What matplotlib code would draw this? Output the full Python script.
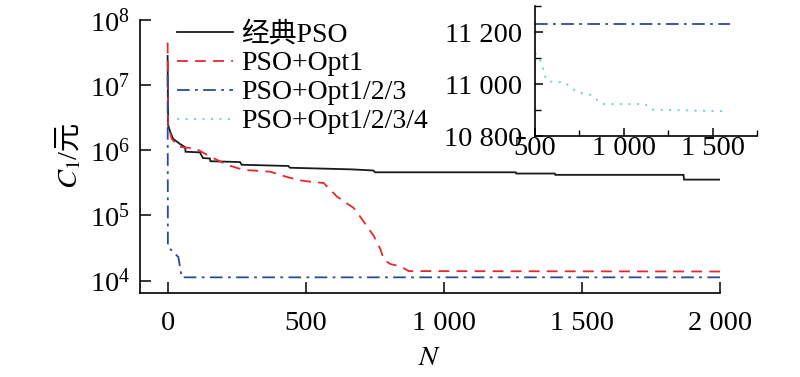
import matplotlib
matplotlib.use("Agg")
import matplotlib.pyplot as plt
from matplotlib.ticker import FixedLocator, FuncFormatter, NullLocator, LogFormatterSciNotation
from matplotlib.lines import Line2D

plt.rcParams['font.family'] = ['Liberation Serif', 'Noto Sans CJK SC', 'DejaVu Sans']
plt.rcParams['mathtext.fontset'] = 'stix'

# ---- data ----
labels = ['经典PSO', 'PSO+Opt1', 'PSO+Opt1/2/3', 'PSO+Opt1/2/3/4']

black_n = [0, 2, 12, 20, 45, 63, 65, 117, 128, 153, 155, 262, 268, 437, 443, 666, 745, 751,
           1260, 1262, 1402, 1404, 1868, 1870, 2000]
black_c = [2.8e7, 2.4e6, 1.8e6, 1.5e6, 1.25e6, 1.12e6, 9.5e5, 9.3e5, 7.6e5, 7.5e5, 6.8e5, 6.6e5,
           6.0e5, 5.75e5, 5.4e5, 5.1e5, 4.9e5, 4.6e5, 4.6e5, 4.4e5, 4.4e5, 4.2e5, 4.2e5, 3.55e5, 3.55e5]

red_n = [0, 2, 15, 40, 63, 100, 153, 214, 275, 371, 432, 480, 517, 565, 613, 674, 698, 747,
         771, 783, 806, 843, 873, 2000]
red_c = [4.5e7, 2.4e6, 1.5e6, 1.15e6, 1.1e6, 1.07e6, 8.1e5, 6.0e5, 5.0e5, 4.7e5, 3.9e5, 3.45e5,
         3.3e5, 3.15e5, 1.95e5, 1.3e5, 9.5e4, 4.8e4, 3.0e4, 2.1e4, 1.8e4, 1.65e4, 1.4e4, 1.38e4]

blue_n = [0, 1, 39, 51, 2000]
blue_c = [1.45e7, 3.3e4, 2.3e4, 11230, 11230]

inset_blue_n = [500, 1600]
inset_blue_c = [11230, 11230]

cyan_n = [500, 509, 538, 556, 575, 669, 697, 742, 809, 847, 882, 1118, 1165, 1590]
cyan_c = [11120, 11112, 11081, 11029, 11010, 11006, 10988, 10968, 10959, 10940, 10923,
          10923, 10901, 10895]

main_xticks = [0, 500, 1000, 1500, 2000]
main_yticks = [1e4, 1e5, 1e6, 1e7, 1e8]
inset_xticks = [500, 1000, 1500]
inset_xminor = [750, 1250, 1750]
inset_yticks = [10800, 11000, 11200]
inset_yminor = [10900, 11100, 11300]

c_black = '#1a1a1a'
c_red = '#e5282e'
c_blue = '#2b4a9c'
c_cyan = '#6fcfd3'

FS = 20.5


def spaced(v, pos=None):
    return f"{int(round(v)):,}".replace(',', ' ')


fig = plt.figure(figsize=(8, 3.77), dpi=100)
ax = fig.add_axes([140 / 800, 1 - 293 / 377, 580 / 800, 273 / 377])

lw = 1.3
ax.plot(black_n, black_c, color=c_black, lw=lw, solid_joinstyle='miter')
ax.plot(red_n, red_c, color=c_red, lw=lw, dashes=(6, 4))
ax.plot(blue_n, blue_c, color=c_blue, lw=lw, dashes=(7, 3, 1.5, 3))

ax.set_yscale('log')
ax.set_xlim(-100, 2000)
ax.set_ylim(10 ** 3.81, 1e8)
ax.xaxis.set_major_locator(FixedLocator(main_xticks))
ax.xaxis.set_major_formatter(FuncFormatter(spaced))
ax.yaxis.set_major_locator(FixedLocator(main_yticks))
ax.yaxis.set_major_formatter(LogFormatterSciNotation())
ax.yaxis.set_minor_locator(NullLocator())
for s in ['top', 'right']:
    ax.spines[s].set_visible(False)
for s in ['left', 'bottom']:
    ax.spines[s].set_linewidth(1.2)
ax.tick_params(axis='both', direction='in', length=8, width=1.1, labelsize=FS)
ax.tick_params(axis='x', pad=13)
ax.tick_params(axis='y', pad=7)

ax.set_xlabel('$N$', fontsize=FS, labelpad=7)

handles = [
    Line2D([], [], color=c_black, lw=lw),
    Line2D([], [], color=c_red, lw=lw, dashes=(6, 4)),
    Line2D([], [], color=c_blue, lw=lw, dashes=(7, 3, 1.5, 3)),
    Line2D([], [], color=c_cyan, lw=lw, dashes=(1.2, 3.5)),
]
ax.legend(handles, labels, loc='upper left', bbox_to_anchor=(0.064, 0.995), frameon=False,
          fontsize=20, handlelength=2.0, handletextpad=0.32, labelspacing=0.13,
          borderpad=0, borderaxespad=0)

# ---- y label: italic C_1 followed by /元 ----
t1 = fig.text(77 / 800, 1 - 189 / 377, '$C_1$', rotation=90, rotation_mode='anchor',
              ha='left', va='baseline', fontsize=FS)
fig.canvas.draw()
bb = t1.get_window_extent()
fig.text(77 / 800, (bb.y1 + 1) / fig.bbox.height, '/元', rotation=90, rotation_mode='anchor',
         ha='left', va='baseline', fontsize=FS)

# ---- inset ----
ins = fig.add_axes([535 / 800, 1 - 136 / 377, 222 / 800, 130 / 377])
ins.plot(inset_blue_n, inset_blue_c, color=c_blue, lw=lw, dashes=(7, 3, 1.5, 3))
ins.plot(cyan_n, cyan_c, color=c_cyan, lw=lw, dashes=(1.2, 3.5))
ins.set_xlim(500, 1750)
ins.set_ylim(10800, 11300)
ins.xaxis.set_major_locator(FixedLocator(inset_xticks))
ins.xaxis.set_minor_locator(FixedLocator(inset_xminor))
ins.yaxis.set_major_locator(FixedLocator(inset_yticks))
ins.yaxis.set_minor_locator(FixedLocator(inset_yminor))
ins.xaxis.set_major_formatter(FuncFormatter(spaced))
ins.yaxis.set_major_formatter(FuncFormatter(spaced))
for s in ['top', 'right']:
    ins.spines[s].set_visible(False)
for s in ['left', 'bottom']:
    ins.spines[s].set_linewidth(1.2)
ins.patch.set_alpha(0)
ins.tick_params(axis='both', which='major', direction='in', length=6, width=1.1, labelsize=FS)
ins.tick_params(axis='both', which='minor', direction='in', length=4, width=1.0)
ins.tick_params(axis='x', pad=0)
ins.tick_params(axis='y', pad=9)

fig.savefig('out.png', dpi=100)
